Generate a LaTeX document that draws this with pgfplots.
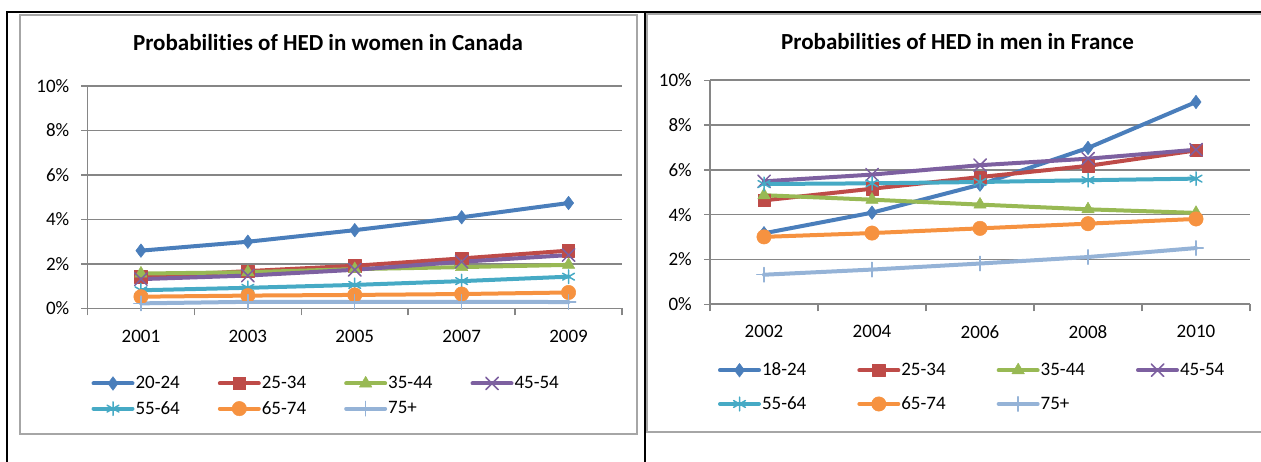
\documentclass[border=0pt]{standalone}
\usepackage{pgfplots}
\pgfplotsset{compat=1.18}
\usepackage{fontspec}
\setmainfont{Carlito}[Ligatures=CommonOff]
\definecolor{cA}{HTML}{4A7EBB}
\definecolor{cB}{HTML}{BE4B48}
\definecolor{cC}{HTML}{98B954}
\definecolor{cD}{HTML}{7D60A0}
\definecolor{cE}{HTML}{46AAC5}
\definecolor{cF}{HTML}{F69240}
\definecolor{cG}{HTML}{95B3D7}
\definecolor{gridc}{HTML}{868686}
\definecolor{framec}{HTML}{A6A6A6}

\pgfplotsset{
  hed/.style={
    scale only axis,
    xmin=0.5, xmax=5.5, ymin=0, ymax=10,
    axis lines=left,
    axis line style={-, draw=gridc, line width=1.5pt},
    xtick={1,2,3,4,5},
    ytick={0,2,4,6,8,10},
    yticklabels={0\%,2\%,4\%,6\%,8\%,10\%},
    ymajorgrids,
    major grid style={draw=gridc, line width=1.6pt},
    tick align=outside,
    xtick style={draw=none},
    ytick style={draw=gridc, line width=1.5pt},
    major tick length=6pt,
    extra x ticks={0.5,1.5,2.5,3.5,4.5,5.5},
    extra x tick labels={},
    extra x tick style={grid=none, major tick length=7pt, xtick style={draw=gridc, line width=1.5pt}},
    ticklabel style={font=\fontsize{19}{22}\selectfont, inner sep=0pt},
    /pgf/number format/assume math mode=true,
    yticklabel style={anchor=east, xshift=-12pt},
    xticklabel style={anchor=north, yshift=-15pt},
    clip=false,
    legend columns=4,
    legend cell align=left,
    legend style={draw=none, fill=none, inner sep=0pt, outer sep=0pt,
      font=\fontsize{19}{22}\selectfont, anchor=north west,
      nodes={inner sep=0pt},
      /tikz/every odd column/.append style={column sep=1pt}},
    legend image code/.code={\draw[mark repeat=2,mark phase=2,#1] plot coordinates {(0pt,0pt) (19.5pt,0pt) (39pt,0pt)};},
    every axis plot/.append style={line width=4pt, line join=round, line cap=round},
  },
  sA/.style={draw=cA, mark=diamond*, mark size=6.8pt, mark options={solid, fill=cA, draw=cA, line width=0.5pt}},
  sB/.style={draw=cB, mark=square*, mark size=6.2pt, mark options={solid, fill=cB, draw=cB, line width=0.5pt}},
  sC/.style={draw=cC, mark=triangle*, mark size=7.2pt, mark options={solid, fill=cC, draw=cC, line width=0.5pt}},
  sD/.style={draw=cD, mark=x, mark size=8.8pt, mark options={solid, draw=cD, line width=1.5pt}},
  sE/.style={draw=cE, mark=asterisk, mark size=6.8pt, mark options={solid, draw=cE, line width=1.5pt}},
  sF/.style={draw=cF, mark=*, mark size=7.2pt, mark options={solid, fill=cF, draw=cF, line width=0.5pt}},
  sG/.style={draw=cG, mark=+, mark size=7.2pt, mark options={solid, draw=cG, line width=1.5pt}},
}

\begin{document}
\begin{tikzpicture}[x=1pt,y=1pt]
\path[use as bounding box] (0,0) rectangle (1261,462);
% outer black frames
\draw[black, line width=2pt] (7,0) -- (7,449.5) -- (1261,449.5);
\draw[black, line width=2pt] (644.5,0) -- (644.5,449.5);
% gray chart frames
\draw[framec, line width=2pt] (20,28) rectangle (636.5,447);
\draw[framec, line width=2pt] (1262,447.5) -- (646.5,447.5) -- (646.5,29.5) -- (1262,29.5);
% titles
\node[font=\fontsize{23}{27}\selectfont\bfseries, anchor=base, inner sep=0pt] at (328,411) {Probabilities of HED in women in Canada};
\node[font=\fontsize{23}{27}\selectfont\bfseries, anchor=base, inner sep=0pt] at (957.5,412) {Probabilities of HED in men in France};

\begin{axis}[hed,
  at={(87.5pt,153.5pt)}, anchor=south west,
  width=534.5pt, height=222.5pt,
  xticklabels={2001,2003,2005,2007,2009},
  legend style={at={(axis description cs:0,0)}, xshift=4pt, yshift=-67.8pt,
    row sep=11pt,
    /tikz/every even column/.append style={column sep=38pt}},
]
\addplot[sA] coordinates {(1,2.60) (2,3.00) (3,3.52) (4,4.10) (5,4.74)};
\addlegendentry{20-24}
\addplot[sB] coordinates {(1,1.42) (2,1.68) (3,1.92) (4,2.25) (5,2.60)};
\addlegendentry{25-34}
\addplot[sC] coordinates {(1,1.57) (2,1.63) (3,1.77) (4,1.86) (5,1.96)};
\addlegendentry{35-44}
\addplot[sD] coordinates {(1,1.32) (2,1.48) (3,1.74) (4,2.10) (5,2.40)};
\addlegendentry{45-54}
\addplot[sE] coordinates {(1,0.82) (2,0.93) (3,1.06) (4,1.23) (5,1.43)};
\addlegendentry{55-64}
\addplot[sF] coordinates {(1,0.53) (2,0.58) (3,0.61) (4,0.65) (5,0.72)};
\addlegendentry{65-74}
\addplot[sG] coordinates {(1,0.23) (2,0.30) (3,0.30) (4,0.30) (5,0.29)};
\addlegendentry{75+}
\end{axis}

\begin{axis}[hed,
  at={(710pt,157.7pt)}, anchor=south west,
  width=540pt, height=224pt,
  xticklabels={2002,2004,2006,2008,2010},
  legend style={at={(axis description cs:0,0)}, xshift=8pt, yshift=-58.7pt,
    row sep=19.3pt,
    /tikz/every even column/.append style={column sep=51pt}},
]
\addplot[sA] coordinates {(1,3.17) (2,4.09) (3,5.34) (4,6.98) (5,9.03)};
\addlegendentry{18-24}
\addplot[sB] coordinates {(1,4.64) (2,5.16) (3,5.68) (4,6.18) (5,6.87)};
\addlegendentry{25-34}
\addplot[sC] coordinates {(1,4.87) (2,4.67) (3,4.45) (4,4.24) (5,4.08)};
\addlegendentry{35-44}
\addplot[sD] coordinates {(1,5.49) (2,5.79) (3,6.21) (4,6.50) (5,6.90)};
\addlegendentry{45-54}
\addplot[sE] coordinates {(1,5.37) (2,5.40) (3,5.46) (4,5.54) (5,5.61)};
\addlegendentry{55-64}
\addplot[sF] coordinates {(1,3.01) (2,3.18) (3,3.39) (4,3.60) (5,3.81)};
\addlegendentry{65-74}
\addplot[sG] coordinates {(1,1.32) (2,1.55) (3,1.82) (4,2.11) (5,2.51)};
\addlegendentry{75+}
\end{axis}
\end{tikzpicture}
\end{document}
